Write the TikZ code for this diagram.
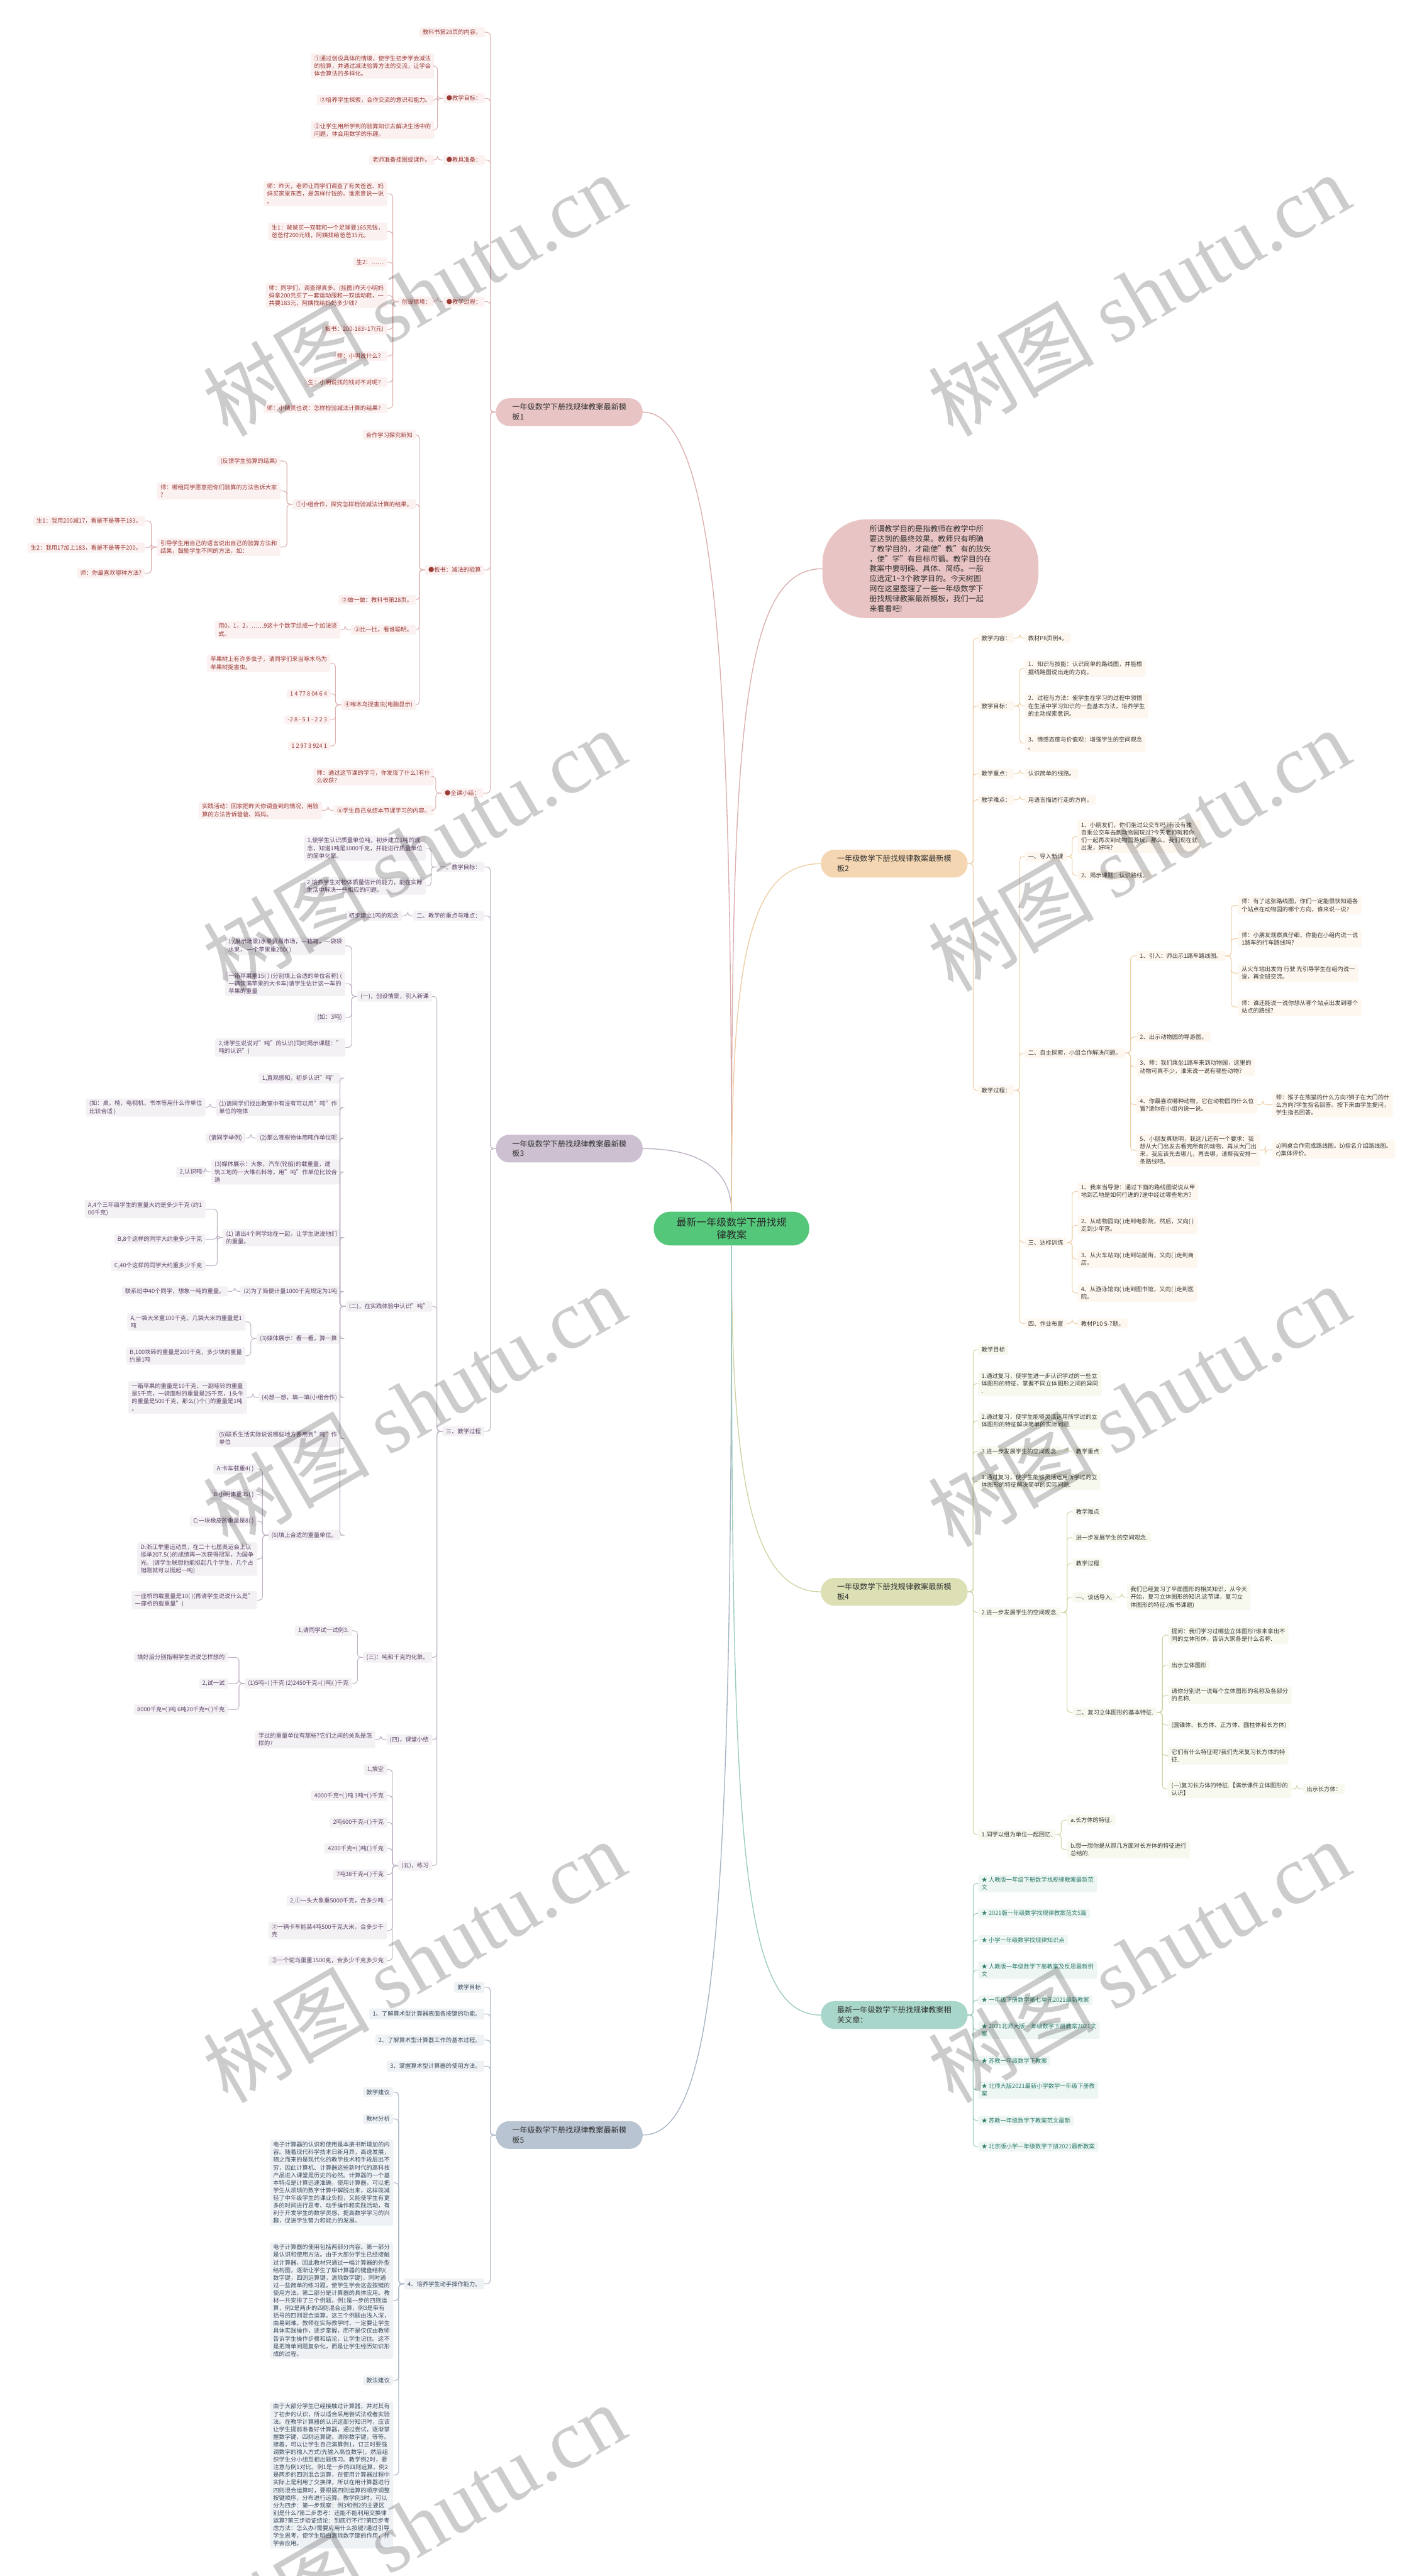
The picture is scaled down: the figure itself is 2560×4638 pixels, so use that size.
\documentclass[tikz,border=0pt]{standalone}
\usepackage{fontspec}
\setmainfont{Noto Sans CJK SC}
\newfontfamily\wmlat{Liberation Serif}
\usetikzlibrary{calc}
\definecolor{rootc}{HTML}{55C77B}
\definecolor{ca}{HTML}{E9C4C4}\definecolor{cal}{HTML}{DDB0B0}\definecolor{caf}{HTML}{FBF1F1}\definecolor{cat}{HTML}{9B3B36}
\definecolor{cb}{HTML}{F4D6B2}\definecolor{cbl}{HTML}{EDCFA6}\definecolor{cbf}{HTML}{FDF7EF}\definecolor{cbt}{HTML}{3C3C3C}
\definecolor{cc}{HTML}{CDC0D1}\definecolor{ccl}{HTML}{BFB2C4}\definecolor{ccf}{HTML}{F4F1F5}\definecolor{cct}{HTML}{5C4566}
\definecolor{cd}{HTML}{DCE0B4}\definecolor{cdl}{HTML}{D0D5A6}\definecolor{cdf}{HTML}{F7F8EE}\definecolor{cdt}{HTML}{3C3C3C}
\definecolor{ce}{HTML}{A9D6CA}\definecolor{cel}{HTML}{9CCDBF}\definecolor{cef}{HTML}{EEF6F3}\definecolor{cet}{HTML}{2E7C6C}
\definecolor{cf}{HTML}{B8C4D2}\definecolor{cfl}{HTML}{A8B5C5}\definecolor{cff}{HTML}{EFF2F5}\definecolor{cft}{HTML}{3E4D5F}
\newcommand\leaffont{\fontsize{10.5}{13.7}\selectfont}
\newcommand\brfont{\fontsize{13.7}{18}\selectfont}
\newcommand\rtfont{\fontsize{18}{23}\selectfont}
\newcommand\wmfont{\fontsize{150}{155}\selectfont}
\newcommand\lkL[3]{\draw[conn,#3] (#1.west) -- ++(-10,0) |- (#2.east);}
\newcommand\lkR[3]{\draw[conn,#3] (#1.east) -- ++(10,0) |- (#2.west);}
\tikzset{
  box/.style={inner xsep=6pt, inner ysep=4pt, align=left, rounded corners=3pt, font=\leaffont},
  nA/.style={box, fill=caf, text=cat, anchor=east},
  nB/.style={box, fill=cbf, text=cbt, anchor=west},
  nC/.style={box, fill=ccf, text=cct, anchor=east},
  nD/.style={box, fill=cdf, text=cdt, anchor=west},
  nE/.style={box, fill=cef, text=cet, anchor=west},
  nF/.style={box, fill=cff, text=cft, anchor=east},
  brn/.style={font=\brfont, minimum width=264pt, minimum height=50pt, rounded corners=24pt, inner xsep=14pt, align=left, text=black!80},
  conn/.style={line width=1.2pt, rounded corners=6pt},
  rc/.style={line width=1.6pt},
  wm/.style={rotate=30, text=black, opacity=0.2, font=\wmfont},
}
\begin{document}
\begin{tikzpicture}[x=1pt,y=-1pt]
\useasboundingbox (0,0) rectangle (2560,4638);
\fill[white] (0,0) rectangle (2560,4638);

% ---------- root and first level ----------
\node[font=\rtfont, fill=rootc, text=black!85, minimum width=280pt, minimum height=61pt, rounded corners=30pt, align=center] (root) at (1317,2212) {最新一年级数学下册找规\\律教案};
\node[brn, fill=ca] (b1) at (1025,742) {一年级数学下册找规律教案最新模\\板1};
\node[brn, fill=cc] (b3) at (1025,2068) {一年级数学下册找规律教案最新模\\板3};
\node[brn, fill=cf] (b5) at (1025,3844) {一年级数学下册找规律教案最新模\\板5};
\node[brn, fill=cb] (b2) at (1610,1555) {一年级数学下册找规律教案最新模\\板2};
\node[brn, fill=cd] (b4) at (1610,2866) {一年级数学下册找规律教案最新模\\板4};
\node[brn, fill=ce] (b6) at (1610,3628) {最新一年级数学下册找规律教案相\\关文章：};
\node[font=\brfont, fill=ca, text=black!80, minimum width=389pt, minimum height=178pt, rounded corners=80pt, align=left] (intro) at (1675,1024) {所谓教学目的是指教师在教学中所\\要达到的最终效果。教师只有明确\\了教学目的，才能使"教"有的放矢\\，使"学"有目标可循。教学目的在\\教案中要明确、具体、简练。一般\\应选定1\textasciitilde3个教学目的。今天树图\\网在这里整理了一些一年级数学下\\册找规律教案最新模板，我们一起\\来看看吧!};

\draw[rc, draw=cal] (root.north) .. controls (1317,1300) and (1300,742) .. (b1.east);
\draw[rc, draw=ccl] (root.north) .. controls (1317,2100) and (1250,2068) .. (b3.east);
\draw[rc, draw=cfl] (root.south) .. controls (1317,3450) and (1290,3844) .. (b5.east);
\draw[rc, draw=cal] (root.north) .. controls (1317,1350) and (1330,1024) .. (intro.west);
\draw[rc, draw=cbl] (root.north) .. controls (1317,1750) and (1340,1555) .. (b2.west);
\draw[rc, draw=cdl] (root.south) .. controls (1317,2650) and (1350,2866) .. (b4.west);
\draw[rc, draw=cel] (root.south) .. controls (1317,3300) and (1330,3628) .. (b6.west);

% ---------- branch 1 ----------
\node[nA] (a1) at (873,58) {教科书第28页的内容。};
\node[nA] (a2) at (873,177) {●教学目标：};
\node[nA] (a3) at (873,288) {●教具准备：};
\node[nA] (a4) at (873,543) {●教学过程：};
\node[nA] (a5) at (872,1026) {●板书：减法的验算};
\node[nA] (a6) at (870,1428) {●全课小结：};
\foreach \c in {a1,a2,a3,a4,a5,a6} {\lkL{b1}{\c}{cal}}
\node[nA] (a21) at (782,119) {①通过创设具体的情境，使学生初步学会减法\\的验算，并通过减法验算方法的交流，让学会\\体会算法的多样化。};
\node[nA] (a22) at (782,180) {②培养学生探索，合作交流的意识和能力。};
\node[nA] (a23) at (782,234) {③让学生用所学到的验算知识去解决生活中的\\问题，体会用数学的乐趣。};
\foreach \c in {a21,a22,a23} {\lkL{a2}{\c}{cal}}
\node[nA] (a31) at (782,288) {老师准备挂图或课件。};
\lkL{a3}{a31}{cal}
\node[nA] (a41) at (782,543) {创设情境：};
\lkL{a4}{a41}{cal}
\node[nA] (k1) at (697,349) {师：昨天，老师让同学们调查了有关爸爸、妈\\妈买家里东西，是怎样付钱的。谁愿意说一说\\。};
\node[nA] (k2) at (697,417) {生1：爸爸买一双鞋和一个足球要165元钱，\\爸爸付200元钱，阿姨找给爸爸35元。};
\node[nA] (k3) at (697,472) {生2：……};
\node[nA] (k4) at (697,532) {师：同学们，调查得真多。(挂图)昨天小明妈\\妈拿200元买了一套运动服和一双运动鞋，一\\共要183元，阿姨找给妈妈多少钱？};
\node[nA] (k5) at (697,593) {板书：200-183=17(元)};
\node[nA] (k6) at (697,641) {师：小明说什么？};
\node[nA] (k7) at (697,688) {生：小明说找的钱对不对呢？};
\node[nA] (k8) at (697,735) {师：小精灵也说：怎样检验减法计算的结果？};
\foreach \c in {k1,k2,k3,k4,k5,k6,k7,k8} {\lkL{a41}{\c}{cal}}
\node[nA] (a51) at (749,783) {合作学习探究新知};
\node[nA] (a52) at (749,908) {①小组合作，探究怎样检验减法计算的结果。};
\node[nA] (a53) at (749,1080) {②做一做：教科书第28页。};
\node[nA] (a54) at (749,1134) {③比一比，看谁聪明。};
\node[nA] (a55) at (749,1269) {④啄木鸟捉害虫(电脑显示)};
\foreach \c in {a51,a52,a53,a54,a55} {\lkL{a5}{\c}{cal}}
\node[nA] (e21) at (505,830) {(反馈学生验算的结果)};
\node[nA] (e22) at (505,884) {师：哪组同学愿意把你们验算的方法告诉大家\\?};
\node[nA] (e23) at (505,985) {引导学生用自己的语言说出自己的验算方法和\\结果，鼓励学生不同的方法，如：};
\foreach \c in {e21,e22,e23} {\lkL{a52}{\c}{cal}}
\node[nA] (e231) at (261,938) {生1：我用200减17，看是不是等于183。};
\node[nA] (e232) at (261,986) {生2：我用17加上183，看是不是等于200。};
\node[nA] (e233) at (261,1032) {师：你最喜欢哪种方法?};
\foreach \c in {e231,e232,e233} {\lkL{e23}{\c}{cal}}
\node[nA] (e41) at (613,1134) {用0，1，2，……9这十个数字组成一个加法竖\\式。};
\lkL{a54}{e41}{cal}
\node[nA] (e51) at (595,1194) {苹果树上有许多虫子，请同学们来当啄木鸟为\\苹果树捉害虫。};
\node[nA] (e52) at (595,1249) {1 4 77 8 04 6 4};
\node[nA] (e53) at (595,1296) {-2 8 - 5 1 - 2 2 3};
\node[nA] (e54) at (595,1343) {1 2 97 3 924 1};
\foreach \c in {e51,e52,e53,e54} {\lkL{a55}{\c}{cal}}
\node[nA] (f1) at (781,1398) {师：通过这节课的学习，你发现了什么?有什\\么收获?};
\node[nA] (f2) at (781,1459) {⑤学生自己总结本节课学习的内容。};
\foreach \c in {f1,f2} {\lkL{a6}{\c}{cal}}
\node[nA] (f21) at (580,1459) {实践活动：回家把昨天你调查到的情况，用验\\算的方法告诉爸爸、妈妈。};
\lkL{f2}{f21}{cal}

% ---------- branch 3 ----------
\node[nC] (c1) at (872,1561) {一、教学目标：};
\node[nC] (c2) at (872,1649) {二、教学的重点与难点：};
\node[nC] (c3) at (872,2577) {三、教学过程};
\foreach \c in {c1,c2,c3} {\lkL{b3}{\c}{ccl}}
\node[nC] (c11) at (767,1527) {1,使学生认识质量单位吨，初步建立1吨的观\\念，知道1吨是1000千克，并能进行质量单位\\的简单化聚。};
\node[nC] (c12) at (767,1595) {2,培养学生对物体质量估计的能力，能在实际\\生活中解决一些相应的问题。};
\foreach \c in {c11,c12} {\lkL{c1}{\c}{ccl}}
\node[nC] (c21) at (724,1649) {初步建立1吨的观念};
\lkL{c2}{c21}{ccl}
\node[nC] (d1) at (778,1794) {(一)，创设情景，引入新课};
\node[nC] (d2) at (778,2352) {(二)，在实践体验中认识"吨"};
\node[nC] (d3) at (778,2984) {(三)：吨和千克的化聚。};
\node[nC] (d4) at (778,3132) {(四)，课堂小结};
\node[nC] (d5) at (778,3359) {(五)，练习};
\foreach \c in {d1,d2,d3,d4,d5} {\lkL{c3}{\c}{ccl}}
\node[nC] (d11) at (622,1703) {1,(展示场景)水果贸易市场，一箱箱，一袋袋\\水果， 一个苹果重200( )};
\node[nC] (d12) at (622,1771) {一箱苹果重15( ) (分别填上合适的单位名称) (\\一辆装满苹果的大卡车)请学生估计这一车的\\苹果的重量};
\node[nC] (d13) at (622,1832) {(如：3吨)};
\node[nC] (d14) at (622,1886) {2,请学生说说对"吨"的认识(同时揭示课题："\\吨的认识")};
\foreach \c in {d11,d12,d13,d14} {\lkL{d1}{\c}{ccl}}
\node[nC] (q0) at (613,1941) {1,直观感知，初步认识"吨"};
\node[nC] (q1) at (613,1994) {(1)请同学们找出教室中有没有可以用"吨"作\\单位的物体};
\node[nC] (q2) at (613,2049) {(2)那么哪些物体用吨作单位呢};
\node[nC] (q3) at (613,2110) {(3)媒体展示：大象，汽车(轮船)的载重量，建\\筑工地的一大堆石料等，用"吨"作单位比较合\\适};
\node[nC] (q4) at (613,2228) {(1) 请出4个同学站在一起，让学生说说他们\\的重量。};
\node[nC] (q5) at (613,2325) {(2)为了简便计量1000千克规定为1吨};
\node[nC] (q6) at (613,2410) {(3)媒体展示：看一看，算一算};
\node[nC] (q7) at (613,2516) {(4)想一想，填一填(小组合作)};
\node[nC] (q8) at (613,2590) {(5)联系生活实际说说哪些地方要用到"吨"作\\单位};
\node[nC] (q9) at (613,2764) {(6)填上合适的重量单位。};
\foreach \c in {q0,q1,q2,q3,q4,q5,q6,q7,q8,q9} {\lkL{d2}{\c}{ccl}}
\node[nC] (q11) at (370,1994) {(如：桌，椅，电视机，书本等用什么作单位\\比较合适 )};
\lkL{q1}{q11}{ccl}
\node[nC] (q21) at (442,2049) {(请同学举例)};
\lkL{q2}{q21}{ccl}
\node[nC] (q31) at (370,2110) {2,认识吨};
\lkL{q3}{q31}{ccl}
\node[nC] (q41) at (370,2177) {A,4个三年级学生的重量大约是多少千克 (约1\\00千克)};
\node[nC] (q42) at (370,2231) {B,8个这样的同学大约重多少千克};
\node[nC] (q43) at (370,2279) {C,40个这样的同学大约重多少千克};
\foreach \c in {q41,q42,q43} {\lkL{q4}{\c}{ccl}}
\node[nC] (q51) at (411,2325) {联系班中40个同学，想象一吨的重量。};
\lkL{q5}{q51}{ccl}
\node[nC] (q61) at (442,2380) {A,一袋大米重100千克，几袋大米的重量是1\\吨};
\node[nC] (q62) at (442,2441) {B,100块砖的重量是200千克，多少块的重量\\约是1吨};
\foreach \c in {q61,q62} {\lkL{q6}{\c}{ccl}}
\node[nC] (q71) at (445,2516) {一箱苹果的重量是10千克，一副哑铃的重量\\是5千克，一袋面粉的重量是25千克，1头牛\\的重量是500千克，那么( )个( )的重量是1吨\\。};
\lkL{q7}{q71}{ccl}
\node[nC] (q91) at (463,2645) {A:卡车载重4( )};
\node[nC] (q92) at (463,2691) {B:小明体重35( )};
\node[nC] (q93) at (463,2739) {C:一块橡皮的重量是8( )};
\node[nC] (q94) at (463,2807) {D:浙江举重运动员，在二十七届奥运会上以\\挺举207.5( )的成绩再一次获得冠军，为国争\\光。(请学生联想他能挺起几个学生，几个占\\旭刚就可以挺起一吨)};
\node[nC] (q95) at (463,2881) {一座桥的载重量是10( )(再请学生说说什么是"\\一座桥的载重量")};
\foreach \c in {q91,q92,q93,q94,q95} {\lkL{q9}{\c}{ccl}}
\node[nC] (r1) at (634,2936) {1,请同学试一试例3.};
\node[nC] (r2) at (634,3031) {(1)5吨=( )千克 (2)2450千克=( )吨( )千克};
\foreach \c in {r1,r2} {\lkL{d3}{\c}{ccl}}
\node[nC] (r21) at (411,2984) {填好后分别指明学生说说怎样想的};
\node[nC] (r22) at (411,3031) {2,试一试};
\node[nC] (r23) at (411,3078) {8000千克=( )吨 6吨20千克=( )千克};
\foreach \c in {r21,r22,r23} {\lkL{r2}{\c}{ccl}}
\node[nC] (s1) at (676,3132) {学过的重量单位有那些?它们之间的关系是怎\\样的?};
\lkL{d4}{s1}{ccl}
\node[nC] (t1) at (697,3186) {1,填空};
\node[nC] (t2) at (697,3233) {4000千克=( )吨 3吨=( )千克};
\node[nC] (t3) at (697,3281) {2吨600千克=( )千克};
\node[nC] (t4) at (697,3328) {4200千克=( )吨( )千克};
\node[nC] (t5) at (697,3375) {7吨38千克=( )千克};
\node[nC] (t6) at (697,3422) {2,①一头大象重5000千克，合多少吨};
\node[nC] (t7) at (697,3476) {②一辆卡车能装4吨500千克大米，合多少千\\克};
\node[nC] (t8) at (697,3530) {③一个鸵鸟蛋重1500克，合多少千克多少克};
\foreach \c in {t1,t2,t3,t4,t5,t6,t7,t8} {\lkL{d5}{\c}{ccl}}

% ---------- branch 5 ----------
\node[nF, inner ysep=5pt] (g1) at (872,3578) {教学目标};
\node[nF, inner ysep=5pt] (g2) at (872,3626) {1、了解算术型计算器表面各按键的功能。};
\node[nF, inner ysep=5pt] (g3) at (872,3673) {2、了解算术型计算器工作的基本过程。};
\node[nF, inner ysep=5pt] (g4) at (872,3720) {3、掌握算术型计算器的使用方法。};
\node[nF, inner ysep=5pt] (g5) at (872,4112) {4、培养学生动手操作能力。};
\foreach \c in {g1,g2,g3,g4,g5} {\lkL{b5}{\c}{cfl}}
\node[nF] (h1) at (708,3767) {教学建议};
\node[nF] (h2) at (708,3815) {教材分析};
\node[nF] (h3) at (708,3930) {电子计算器的认识和使用是本册书新增加的内\\容。随着现代科学技术日新月异，高速发展，\\随之而来的是现代化的教学技术和手段层出不\\穷，因此计算机、计算器这些新时代的高科技\\产品进入课堂是历史的必然。计算器的一个基\\本特点是计算迅速准确，使用计算器，可以把\\学生从烦琐的数字计算中解脱出来，这样既减\\轻了中年级学生的课业负担，又能使学生有更\\多的时间进行思考、动手操作和实践活动，有\\利于开发学生的数学灵感，提高数学学习的兴\\趣，促进学生智力和能力的发展。};
\node[nF] (h4) at (708,4142) {电子计算器的使用包括两部分内容。第一部分\\是认识和使用方法。由于大部分学生已经接触\\过计算器，因此教材只通过一幅计算器的外型\\ 结构图，逐渐让学生了解计算器的键盘结构(\\数字键，四则运算键，清除数字键)，同时通\\过一些简单的练习题，使学生学会这些按键的\\使用方法。第二部分是计算器的具体应用。教\\材一共安排了三个例题，例1是一步的四则运\\算，例2是两步的四则混合运算，例3是带有\\括号的四则混合运算。这三个例题由浅入深，\\由易到难。教师在实际教学时，一定要让学生\\具体实践操作，逐步掌握，而不是仅仅由教师\\告诉学生操作步骤和结论，让学生记住。这不\\是把简单问题复杂化，而是让学生经历知识形\\成的过程。};
\node[nF] (h5) at (708,4286) {教法建议};
\node[nF] (h6) at (708,4456) {由于大部分学生已经接触过计算器，并对其有\\了初步的认识，所以适合采用尝试法或者实验\\法。在教学计算器的认识这部分知识时，应该\\让学生提前准备好计算器，通过尝试，逐渐掌\\握数字键、四则运算键、清除数字键，等等。\\接着，可以让学生自己演算例1，订正时要强\\调数字的输入方式(先输入高位数字)，然后组\\织学生分小组互相出题练习。教学例2时，要\\注意与例1对比。例1是一步的四则运算，例2\\是两步的四则混合运算，在使用计算器过程中\\实际上是利用了交换律，所以在用计算器进行\\四则混合运算时，要根据四则运算的顺序调整\\按键顺序，分布进行运算。教学例3时，可以\\分为四步：第一步观察：例3和例2的主要区\\别是什么?第二步思考：还能不能利用交换律\\运算?第三步验证结论：到底行不行?第四步考\\虑方法：怎么办?需要应用什么按键?通过引导\\学生思考，使学生明白清除数字键的作用，并\\学会应用。};
\foreach \c in {h1,h2,h3,h4,h5,h6} {\lkL{g5}{\c}{cfl}}

% ---------- branch 2 ----------
\node[nB] (m1) at (1761,1149) {教学内容：};
\node[nB] (m2) at (1761,1271) {教学目标：};
\node[nB] (m3) at (1761,1393) {教学重点：};
\node[nB] (m4) at (1761,1440) {教学难点：};
\node[nB] (m5) at (1761,1963) {教学过程：};
\foreach \c in {m1,m2,m3,m4,m5} {\lkR{b2}{\c}{cbl}}
\node[nB] (m11) at (1845,1149) {教材P8页例4。};
\lkR{m1}{m11}{cbl}
\node[nB] (m21) at (1845,1203) {1、知识与技能：认识简单的路线图，并能根\\据线路图说出走的方向。};
\node[nB] (m22) at (1845,1271) {2、过程与方法：使学生在学习的过程中领悟\\在生活中学习知识的一些基本方法，培养学生\\的主动探索意识。};
\node[nB] (m23) at (1845,1338) {3、情感态度与价值观：增强学生的空间观念\\。};
\foreach \c in {m21,m22,m23} {\lkR{m2}{\c}{cbl}}
\node[nB] (m31) at (1845,1393) {认识简单的线路。};
\lkR{m3}{m31}{cbl}
\node[nB] (m41) at (1845,1440) {用语言描述行走的方向。};
\lkR{m4}{m41}{cbl}
\node[nB] (x1) at (1845,1542) {一、导入新课};
\node[nB] (x2) at (1845,1896) {二、自主探索，小组合作解决问题。};
\node[nB] (x3) at (1845,2237) {三、达标训练};
\node[nB] (x4) at (1845,2383) {四、作业布置};
\foreach \c in {x1,x2,x3,x4} {\lkR{m5}{\c}{cbl}}
\node[nB] (x11) at (1940,1506) {1、小朋友们，你们坐过公交车吗?有没有独\\自乘公交车去到动物园玩过?今天老师就和你\\们一起再次到动物园游玩，那么，我们现在就\\出发，好吗?};
\node[nB] (x12) at (1940,1576) {2、揭示课题：认识路线。};
\foreach \c in {x11,x12} {\lkR{x1}{\c}{cbl}}
\node[nB] (y1) at (2046,1721) {1、引入：师出示1路车路线图。};
\node[nB] (y2) at (2046,1867) {2、出示动物园的导游图。};
\node[nB] (y3) at (2046,1921) {3、师：我们乘坐1路车来到动物园，这里的\\动物可真不少，谁来说一说有哪些动物?};
\node[nB] (y4) at (2046,1989) {4、你最喜欢哪种动物，它在动物园的什么位\\置?请你在小组内说一说。};
\node[nB] (y5) at (2046,2071) {5、小朋友真聪明，我这儿还有一个要求：我\\想从大门出发去看完所有的动物，再从大门出\\来，我应该先去哪儿，再去哪，请帮我安排一\\条路线吧。};
\foreach \c in {y1,y2,y3,y4,y5} {\lkR{x2}{\c}{cbl}}
\node[nB] (y11) at (2229,1630) {师：有了这张路线图，你们一定能很快知道各\\个站点在动物园的哪个方向，谁来说一说?};
\node[nB] (y12) at (2229,1690) {师：小朋友观察真仔细，你能在小组内说一说\\1路车的行车路线吗?};
\node[nB] (y13) at (2229,1752) {从火车站出发向 行驶 先引导学生在组内说一\\说，再全班交流。};
\node[nB] (y14) at (2229,1813) {师：谁还能说一说你想从哪个站点出发到哪个\\站点的路线?};
\foreach \c in {y11,y12,y13,y14} {\lkR{y1}{\c}{cbl}}
\node[nB] (y41) at (2291,1989) {师：猴子在熊猫的什么方向?狮子在大门的什\\么方向?学生指名回答。按下来由学生提问，\\学生指名回答。};
\lkR{y4}{y41}{cbl}
\node[nB] (y51) at (2291,2070) {a)同桌合作完成路线图。b)指名介绍路线图。\\c)集体评价。};
\lkR{y5}{y51}{cbl}
\node[nB] (z1) at (1940,2145) {1、我来当导游：通过下面的路线图说说从甲\\地到乙地是如何行进的?途中经过哪些地方?};
\node[nB] (z2) at (1940,2206) {2、从动物园向( )走到电影院，然后，又向( )\\走到少年宫。};
\node[nB] (z3) at (1940,2267) {3、从火车站向( )走到站前街，又向( )走到商\\店。};
\node[nB] (z4) at (1940,2328) {4、从游泳馆向( )走到图书馆，又向( )走到医\\院。};
\foreach \c in {z1,z2,z3,z4} {\lkR{x3}{\c}{cbl}}
\node[nB] (w1) at (1940,2383) {教材P10 5-7题。};
\lkR{x4}{w1}{cbl}

% ---------- branch 4 ----------
\node[nD] (p1) at (1761,2430) {教学目标};
\node[nD] (p2) at (1761,2491) {1.通过复习，使学生进一步认识学过的一些立\\体图形的特征，掌握不同立体图形之间的异同\\.};
\node[nD] (p3) at (1761,2558) {2.通过复习，使学生能够灵活运用所学过的立\\体图形的特征解决简单的实际问题.};
\node[nD] (p4) at (1761,2613) {3.进一步发展学生的空间观念.};
\node[nD] (p5) at (1761,2667) {1.通过复习，使学生能够灵活运用所学过的立\\体图形的特征解决简单的实际问题.};
\node[nD] (p6) at (1761,2903) {2.进一步发展学生的空间观念.};
\node[nD] (p7) at (1761,3303) {1.同学以组为单位一起回忆.};
\foreach \c in {p1,p2,p3,p4,p5,p6,p7} {\lkR{b4}{\c}{cdl}}
\node[nD] (p41) at (1931,2613) {教学重点};
\lkR{p4}{p41}{cdl}
\node[nD] (u1) at (1931,2722) {教学难点};
\node[nD] (u2) at (1931,2768) {进一步发展学生的空间观念.};
\node[nD] (u3) at (1931,2815) {教学过程};
\node[nD] (u4) at (1931,2876) {一、谈话导入.};
\node[nD] (u5) at (1931,3083) {二、复习立体图形的基本特征.};
\foreach \c in {u1,u2,u3,u4,u5} {\lkR{p6}{\c}{cdl}}
\node[nD] (u41) at (2029,2876) {我们已经复习了平面图形的相关知识，从今天\\开始，复习立体图形的知识.这节课，复习立\\体图形的特征.(板书课题)};
\lkR{u4}{u41}{cdl}
\node[nD] (v1) at (2103,2944) {提问：我们学习过哪些立体图形?谁来拿出不\\同的立体形体，告诉大家各是什么名称.};
\node[nD] (v2) at (2103,2998) {出示立体图形};
\node[nD] (v3) at (2103,3052) {请你分别说一说每个立体图形的名称及各部分\\的名称.};
\node[nD] (v4) at (2103,3106) {(圆锥体、长方体、正方体、圆柱体和长方体)};
\node[nD] (v5) at (2103,3161) {它们有什么特征呢?我们先来复习长方体的特\\征.};
\node[nD] (v6) at (2103,3221) {(一)复习长方体的特征.【演示课件立体图形的\\认识】};
\foreach \c in {v1,v2,v3,v4,v5,v6} {\lkR{u5}{\c}{cdl}}
\node[nD] (v61) at (2346,3221) {出示长方体：};
\lkR{v6}{v61}{cdl}
\node[nD] (p71) at (1921,3277) {a.长方体的特征.};
\node[nD] (p72) at (1921,3330) {b.想一想你是从那几方面对长方体的特征进行\\总结的.};
\foreach \c in {p71,p72} {\lkR{p7}{\c}{cdl}}

% ---------- related articles ----------
\node[nE] (o1) at (1761,3391) {★ 人教版一年级下册数学找规律教案最新范\\文};
\node[nE] (o2) at (1761,3445) {★ 2021版一年级数学找规律教案范文5篇};
\node[nE] (o3) at (1761,3493) {★ 小学一年级数学找规律知识点};
\node[nE] (o4) at (1761,3547) {★ 人教版一年级数学下册教案及反思最新例\\文};
\node[nE] (o5) at (1761,3601) {★ 一年级下册数学第七单元2021最新教案};
\node[nE] (o6) at (1761,3655) {★ 2021北师大版一年级数学下册教案2021文\\案};
\node[nE] (o7) at (1761,3710) {★ 苏教一年级数学下教案};
\node[nE] (o8) at (1761,3763) {★ 北师大版2021最新小学数学一年级下册教\\案};
\node[nE] (o9) at (1761,3818) {★ 苏教一年级数学下教案范文最新};
\node[nE] (o10) at (1761,3865) {★ 北京版小学一年级数学下册2021最新教案};
\foreach \c in {o1,o2,o3,o4,o5,o6,o7,o8,o9,o10} {\lkR{b6}{\c}{cel}}

% ---------- watermarks ----------
\foreach \yy in {530,1530,2530,3530,4545} {\node[wm] (wl\yy) at (745,\yy) {树图 {\wmlat shutu.cn}};}
\foreach \yy in {530,1530,2530,3530} {\node[wm] (wr\yy) at (2050,\yy) {树图 {\wmlat shutu.cn}};}
\end{tikzpicture}
\end{document}
